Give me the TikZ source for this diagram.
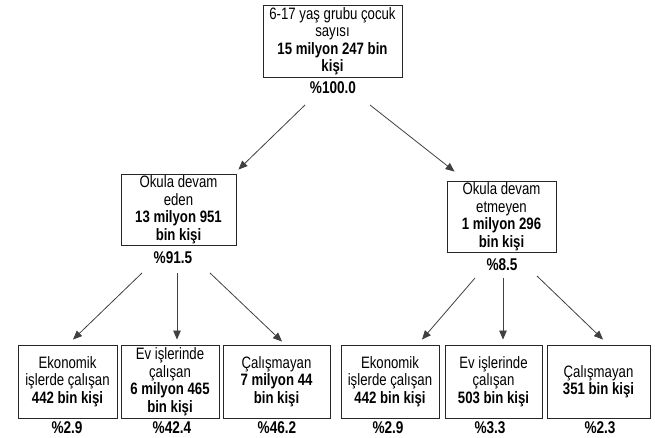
\documentclass[tikz,border=0pt]{standalone}
\usepackage{fontspec}
\setmainfont{Liberation Sans}[FakeStretch=0.8]
\usetikzlibrary{arrows.meta}

\begin{document}
\begin{tikzpicture}[x=1pt,y=-1pt,
  box/.style={draw=black!85,line width=0.9pt,align=center,inner sep=1pt,
    font=\fontsize{16.5}{17.5}\selectfont,minimum height=72pt},
  pct/.style={font=\fontsize{17}{18}\selectfont\bfseries,inner sep=0pt},
  arr/.style={draw=black!75,line width=0.8pt,-{Triangle[length=9pt,width=7.5pt]}}]
  \useasboundingbox (0,0) rectangle (655,438);
  \node[box,minimum width=139pt] (t) at (332.5,41) {6-17 yaş grubu çocuk\\sayısı\\\textbf{15 milyon 247 bin}\\\textbf{kişi}};
  \node[pct] (p0) at (333,88) {\%100.0};
  \node[box,minimum width=115pt,minimum height=71pt] (m1) at (178.5,209.5) {Okula devam\\eden\\\textbf{13 milyon 951}\\\textbf{bin kişi}};
  \node[pct] (p1) at (173,258) {\%91.5};
  \node[box,minimum width=109pt,minimum height=71pt] (m2) at (501.5,216.5) {Okula devam\\etmeyen\\\textbf{1 milyon 296}\\\textbf{bin kişi}};
  \node[pct] (p2) at (502,265) {\%8.5};
  \node[box,minimum width=99pt,minimum height=73pt] (b1) at (67.5,381.5) {Ekonomik\\işlerde çalışan\\\textbf{442 bin kişi}};
  \node[box,minimum width=98pt,minimum height=73pt] (b2) at (170,381.5) {Ev işlerinde\\çalışan\\\textbf{6 milyon 465}\\\textbf{bin kişi}};
  \node[box,minimum width=107pt,minimum height=73pt] (b3) at (276.5,381.5) {Çalışmayan\\\textbf{7 milyon 44}\\\textbf{bin kişi}};
  \node[box,minimum width=98pt,minimum height=73pt] (b4) at (390,381.5) {Ekonomik\\işlerde çalışan\\\textbf{442 bin kişi}};
  \node[box,minimum width=97pt,minimum height=73pt] (b5) at (493.5,381.5) {Ev işlerinde\\çalışan\\\textbf{503 bin kişi}};
  \node[box,minimum width=103pt,minimum height=73pt] (b6) at (598.5,381.5) {Çalışmayan\\\textbf{351 bin kişi}};
  \node[pct] (q1) at (67,428) {\%2.9};
  \node[pct] (q2) at (172,428) {\%42.4};
  \node[pct] (q3) at (277,428) {\%46.2};
  \node[pct] (q4) at (388,428) {\%2.9};
  \node[pct] (q5) at (490,428) {\%3.3};
  \node[pct] (q6) at (600,428) {\%2.3};
  \draw[arr] ([xshift=-28pt,yshift=-17pt]p0.center) -- ([xshift=2pt,yshift=4pt]m1.north east);
  \draw[arr] ([xshift=37pt,yshift=-17pt]p0.center) -- ([xshift=8pt,yshift=9pt]m2.north west);
  \draw[arr] ([xshift=-31pt,yshift=-15pt]p1.center) -- ([xshift=5.5pt,yshift=5pt]b1.north);
  \draw[arr] ([xshift=4pt,yshift=-15pt]p1.center) -- ([xshift=7pt,yshift=5pt]b2.north);
  \draw[arr] ([xshift=37pt,yshift=-15pt]p1.center) -- ([xshift=5.5pt,yshift=3pt]b3.north);
  \draw[arr] ([xshift=-27pt,yshift=-13pt]p2.center) -- ([xshift=32pt,yshift=5pt]b4.north);
  \draw[arr] ([xshift=1pt,yshift=-13pt]p2.center) -- ([xshift=9.5pt,yshift=5pt]b5.north);
  \draw[arr] ([xshift=35pt,yshift=-11pt]p2.center) -- ([xshift=4.5pt,yshift=5pt]b6.north);
\end{tikzpicture}
\end{document}
